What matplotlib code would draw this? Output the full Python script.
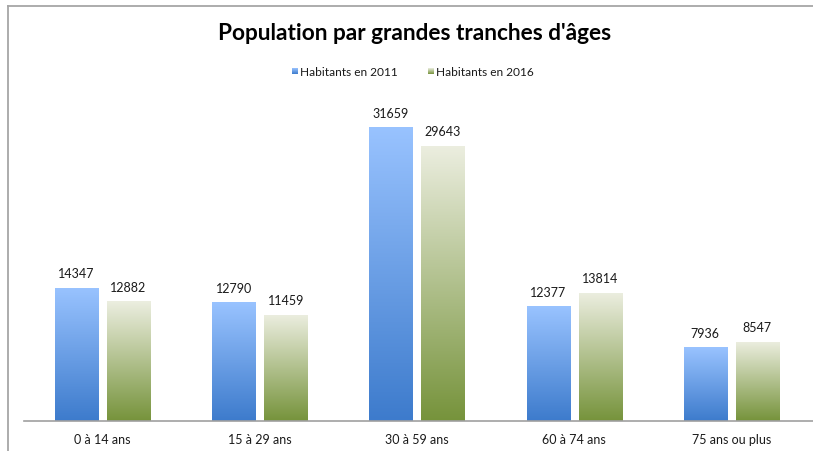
import numpy as np
import matplotlib.pyplot as plt
from matplotlib.colors import LinearSegmentedColormap

categories = ["0 à 14 ans", "15 à 29 ans", "30 à 59 ans", "60 à 74 ans", "75 ans ou plus"]
hab_2011 = [14347, 12790, 31659, 12377, 7936]
hab_2016 = [12882, 11459, 29643, 13814, 8547]
series_names = ["Habitants en 2011", "Habitants en 2016"]

plt.rcParams['font.family'] = ['Lato', 'DejaVu Sans']

blue_cmap = LinearSegmentedColormap.from_list("blue", ["#3d7bcc", "#99c3ff"])
green_cmap = LinearSegmentedColormap.from_list("green", ["#76933b", "#eceee0"])

fig = plt.figure(figsize=(8.13, 4.52), dpi=100)
W, H = 813, 452
ax = fig.add_axes([24 / W, (H - 422) / H, (W - 24) / W, (422 - 100) / H])

x = np.arange(len(categories))
width = 0.274
offset = 0.165
grad = np.linspace(0, 1, 256).reshape(-1, 1)


def gradient_bars(xs, vals, cmap):
    bars = ax.bar(xs, vals, width, color='none', edgecolor='none')
    for rect in bars:
        x0, y0 = rect.get_x(), rect.get_y()
        w, h = rect.get_width(), rect.get_height()
        im = ax.imshow(grad, cmap=cmap, origin='lower', aspect='auto',
                       extent=(x0, x0 + w, y0, y0 + h), zorder=2)
        im.set_clip_path(rect)
    for xi, v in zip(xs, vals):
        ax.annotate(str(v), (xi, v), xytext=(0, 6), textcoords='offset points',
                    ha='center', va='bottom', fontsize=9, color='#1a1a1a')
    return bars


gradient_bars(x - offset, hab_2011, blue_cmap)
gradient_bars(x + offset, hab_2016, green_cmap)

ax.set_xlim(-0.5, len(categories) - 0.48)
ax.set_ylim(0, 34670)
ax.set_xticks(x)
ax.set_xticklabels(categories, fontsize=9, color='#1a1a1a')
ax.tick_params(axis='x', length=0, pad=9)
ax.set_yticks([])
for s in ['top', 'right', 'left']:
    ax.spines[s].set_visible(False)
ax.spines['bottom'].set_color('#a0a0a0')
ax.spines['bottom'].set_linewidth(1.2)

# outer frame (top and left edges visible)
fig.add_artist(plt.Line2D([8 / W, 1], [1 - 7 / H, 1 - 7 / H], color='#a6a6a6', lw=1.3))
fig.add_artist(plt.Line2D([8 / W, 8 / W], [0, 1 - 7 / H], color='#a6a6a6', lw=1.3))

fig.text(415 / W, 1 - 33 / H, "Population par grandes tranches d'âges",
         ha='center', va='center', fontsize=16.3, fontweight='bold')

# legend with small gradient squares
legend_items = [(292, series_names[0], blue_cmap), (428, series_names[1], green_cmap)]
for lx, label, cmap in legend_items:
    lax = fig.add_axes([lx / W, 1 - 75 / H, 6 / W, 6 / H])
    lax.imshow(grad, cmap=cmap, origin='lower', aspect='auto')
    lax.axis('off')
    fig.text((lx + 8) / W, 1 - 72 / H, label, ha='left', va='center', fontsize=8.6, color='#1a1a1a')

fig.savefig("out.png", dpi=100)
